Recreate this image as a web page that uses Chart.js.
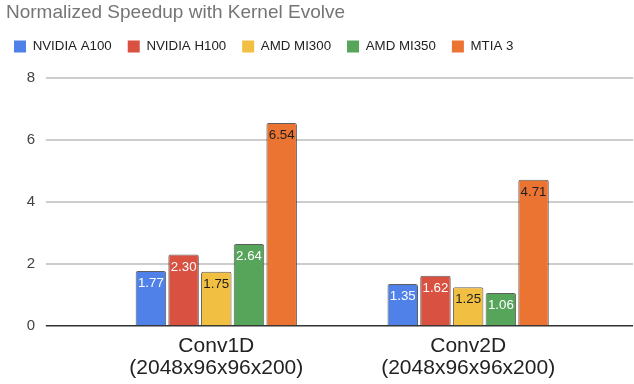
<!DOCTYPE html>
<html>
<head>
<meta charset="utf-8">
<script src="https://cdn.jsdelivr.net/npm/chart.js@4.4.1/dist/chart.umd.min.js"></script>
<style>
  html, body { margin: 0; padding: 0; background: #ffffff; }
  #wrap { width: 634px; height: 384px; position: relative; }
</style>
</head>
<body>
<div id="wrap"><canvas id="chart" width="634" height="384"></canvas></div>
<script>
// Workloads (x categories) and per-device speedups
const categories = [['Conv1D', '(2048x96x96x200)'], ['Conv2D', '(2048x96x96x200)']];
const deviceNames = ['NVIDIA A100', 'NVIDIA H100', 'AMD MI300', 'AMD MI350', 'MTIA 3'];
const a100 = [1.77, 1.35];
const h100 = [2.30, 1.62];
const mi300 = [1.75, 1.25];
const mi350 = [2.64, 1.06];
const mtia3 = [6.54, 4.71];
const yTicks = [0, 2, 4, 6, 8];

const seriesValues = [a100, h100, mi300, mi350, mtia3];
const barColors = ['#4f81e9', '#d95141', '#f1bf42', '#57a55b', '#eb7433'];
const labelColors = ['#ffffff', '#ffffff', '#1f1f1f', '#ffffff', '#1f1f1f'];

const FONT = "'Liberation Sans', Arial, Helvetica, sans-serif";
const AREA_LEFT = 90.35;
const AREA_RIGHT = 594.1;

// baseline is dark, other gridlines light grey
const gridColor = ctx => (ctx.tick && ctx.tick.value === 0) ? '#333333' : '#cdcdcd';
const gridWidth = ctx => (ctx.tick && ctx.tick.value === 0) ? 1.5 : 2;

// value labels inside the top of each bar
const valueLabels = {
  id: 'valueLabels',
  afterDatasetsDraw(chart) {
    const ctx = chart.ctx;
    ctx.save();
    ctx.font = '13.3px ' + FONT;
    ctx.textAlign = 'center';
    ctx.textBaseline = 'middle';
    chart.data.datasets.forEach((ds, di) => {
      const meta = chart.getDatasetMeta(di);
      ctx.fillStyle = labelColors[di];
      meta.data.forEach((bar, i) => {
        ctx.fillText(ds.data[i].toFixed(2), bar.x, bar.y + 12.5);
      });
    });
    ctx.restore();
  }
};

// nudge the title block to its left inset
const titleInset = {
  id: 'titleInset',
  afterLayout(chart) {
    if (chart.titleBlock) chart.titleBlock.left += 8;
  }
};

new Chart(document.getElementById('chart'), {
  type: 'bar',
  data: {
    labels: categories,
    datasets: deviceNames.map((name, i) => ({
      label: name,
      data: seriesValues[i],
      backgroundColor: barColors[i],
      borderColor: 'rgba(40,40,40,0.75)',
      borderWidth: 1,
      borderRadius: 2,
      borderSkipped: 'bottom',
      categoryPercentage: 0.649,
      barPercentage: 0.933
    }))
  },
  options: {
    responsive: false,
    animation: false,
    devicePixelRatio: 1,
    layout: { padding: { left: -2, right: 0, top: 0, bottom: 0 } },
    plugins: {
      title: {
        display: true,
        text: 'Normalized Speedup with Kernel Evolve',
        align: 'start',
        color: '#757575',
        font: { family: FONT, size: 19, weight: 'normal' },
        padding: { top: 1, bottom: 0 }
      },
      // blank spacer between the legend and the plot area
      subtitle: {
        display: true,
        text: '',
        weight: 500,
        font: { family: FONT, size: 10, lineHeight: 1 },
        padding: { top: 0, bottom: 4.6 }
      },
      legend: {
        display: true,
        align: 'start',
        labels: {
          boxWidth: 12,
          boxHeight: 12,
          padding: 16,
          color: '#222222',
          font: { family: FONT, size: 13.3 },
          generateLabels(chart) {
            return chart.data.datasets.map((ds, i) => ({
              text: ds.label,
              fillStyle: ds.backgroundColor,
              strokeStyle: ds.backgroundColor,
              lineWidth: 0,
              fontColor: '#222222',
              datasetIndex: i,
              hidden: false
            }));
          }
        }
      },
      tooltip: { enabled: false }
    },
    scales: {
      x: {
        grid: { display: false, drawTicks: false },
        border: { display: false },
        ticks: {
          color: '#222222',
          font: { family: FONT, size: 21, lineHeight: 1.05 },
          padding: 9,
          maxRotation: 0
        },
        afterFit(scale) { scale.height = 58; }
      },
      y: {
        position: 'left',
        min: yTicks[0],
        max: yTicks[yTicks.length - 1],
        ticks: {
          stepSize: 2,
          color: '#444444',
          font: { family: FONT, size: 15 },
          padding: 10.8
        },
        grid: { display: true, color: gridColor, lineWidth: gridWidth, tickLength: 44.5, drawTicks: true, drawOnChartArea: true },
        border: { display: false },
        afterFit(scale) { scale.width = AREA_LEFT + 2; }
      },
      y2: {
        position: 'right',
        min: yTicks[0],
        max: yTicks[yTicks.length - 1],
        ticks: { display: false, stepSize: 2 },
        grid: { display: true, color: gridColor, lineWidth: gridWidth, tickLength: 39, drawTicks: true, drawOnChartArea: false },
        border: { display: false },
        afterFit(scale) { scale.width = 634 - AREA_RIGHT; }
      }
    }
  },
  plugins: [valueLabels, titleInset]
});
</script>
</body>
</html>
